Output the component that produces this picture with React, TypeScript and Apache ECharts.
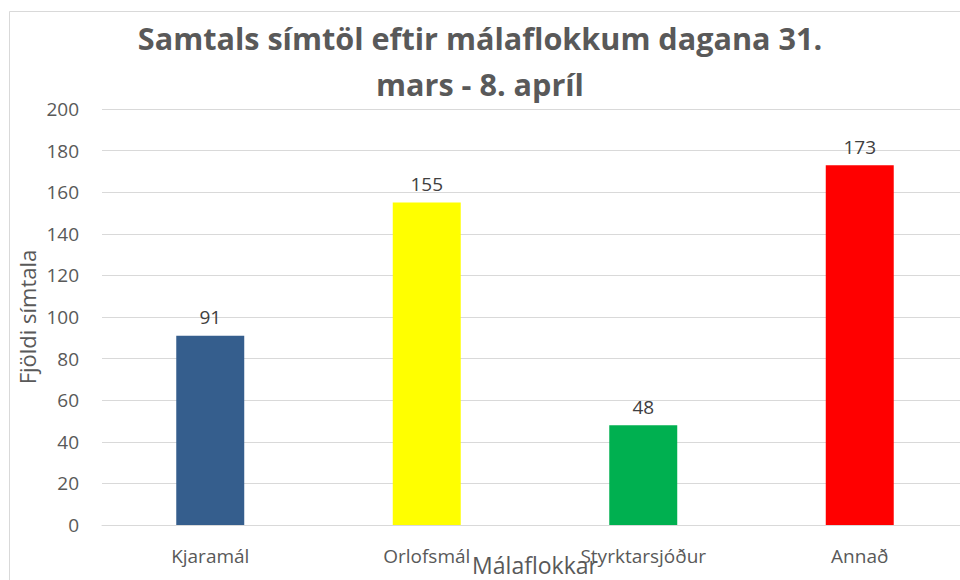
import React, { useEffect, useRef } from "react";
import * as echarts from "echarts";

const categories = ["Kjaramál", "Orlofsmál", "Styrktarsjóður", "Annað"];
const values = [91, 155, 48, 173];
const barColors = ["#355E8D", "#FFFF00", "#00B050", "#FF0000"];
const titleText = "Samtals símtöl eftir málaflokkum dagana 31.\nmars - 8. apríl";
const xName = "Málaflokkar";
const yName = "Fjöldi símtala";

const FONT = "'Open Sans', 'Noto Sans', sans-serif";
const GREY = "#595959";

export default function App() {
  const ref = useRef<HTMLDivElement>(null);
  useEffect(() => {
    if (!ref.current) return;
    const chart = echarts.init(ref.current, undefined, { renderer: "svg" });
    chart.setOption({
      animation: false,
      textStyle: { fontFamily: FONT },
      title: {
        text: titleText,
        left: "center",
        top: 10,
        textStyle: {
          fontFamily: FONT,
          fontSize: 30.6,
          fontWeight: "bold",
          color: GREY,
          lineHeight: 46,
        },
      },
      graphic: [
        {
          type: "rect",
          shape: { x: 9.5, y: 11.5, width: 1000, height: 620 },
          style: { fill: "none", stroke: "#D9D9D9", lineWidth: 1 },
          silent: true,
          z: -1,
        },
      ],
      grid: {
        left: 102,
        right: -8,
        top: 109,
        height: 416,
        containLabel: false,
        outerBoundsMode: "none",
      },
      xAxis: {
        type: "category",
        data: categories,
        name: xName,
        nameLocation: "middle",
        nameGap: 28,
        nameMoveOverlap: false,
        nameTextStyle: { fontFamily: FONT, fontSize: 23, color: GREY },
        axisLine: { show: true, lineStyle: { color: "#D9D9D9", width: 1 } },
        axisTick: { show: false },
        axisLabel: { fontFamily: FONT, fontSize: 19, color: GREY, margin: 21 },
      },
      yAxis: {
        type: "value",
        min: 0,
        max: 200,
        interval: 20,
        name: yName,
        nameLocation: "middle",
        nameGap: 64,
        nameRotate: 90,
        nameMoveOverlap: false,
        nameTextStyle: { fontFamily: FONT, fontSize: 22, color: GREY },
        axisLine: { show: false },
        axisTick: { show: false },
        axisLabel: { fontFamily: FONT, fontSize: 19, color: GREY, margin: 23 },
        splitLine: { lineStyle: { color: "#D9D9D9", width: 1 } },
      },
      series: [
        {
          type: "bar",
          data: values.map((v, i) => ({ value: v, itemStyle: { color: barColors[i] } })),
          barWidth: "31.4%",
          label: {
            show: true,
            position: "top",
            distance: 9,
            fontFamily: FONT,
            fontSize: 19,
            color: "#404040",
          },
        },
      ],
    });
    return () => chart.dispose();
  }, []);
  return (
    <div
      ref={ref}
      style={{ width: 960, height: 580, position: "absolute", left: 0, top: 0, overflow: "hidden" }}
    />
  );
}
